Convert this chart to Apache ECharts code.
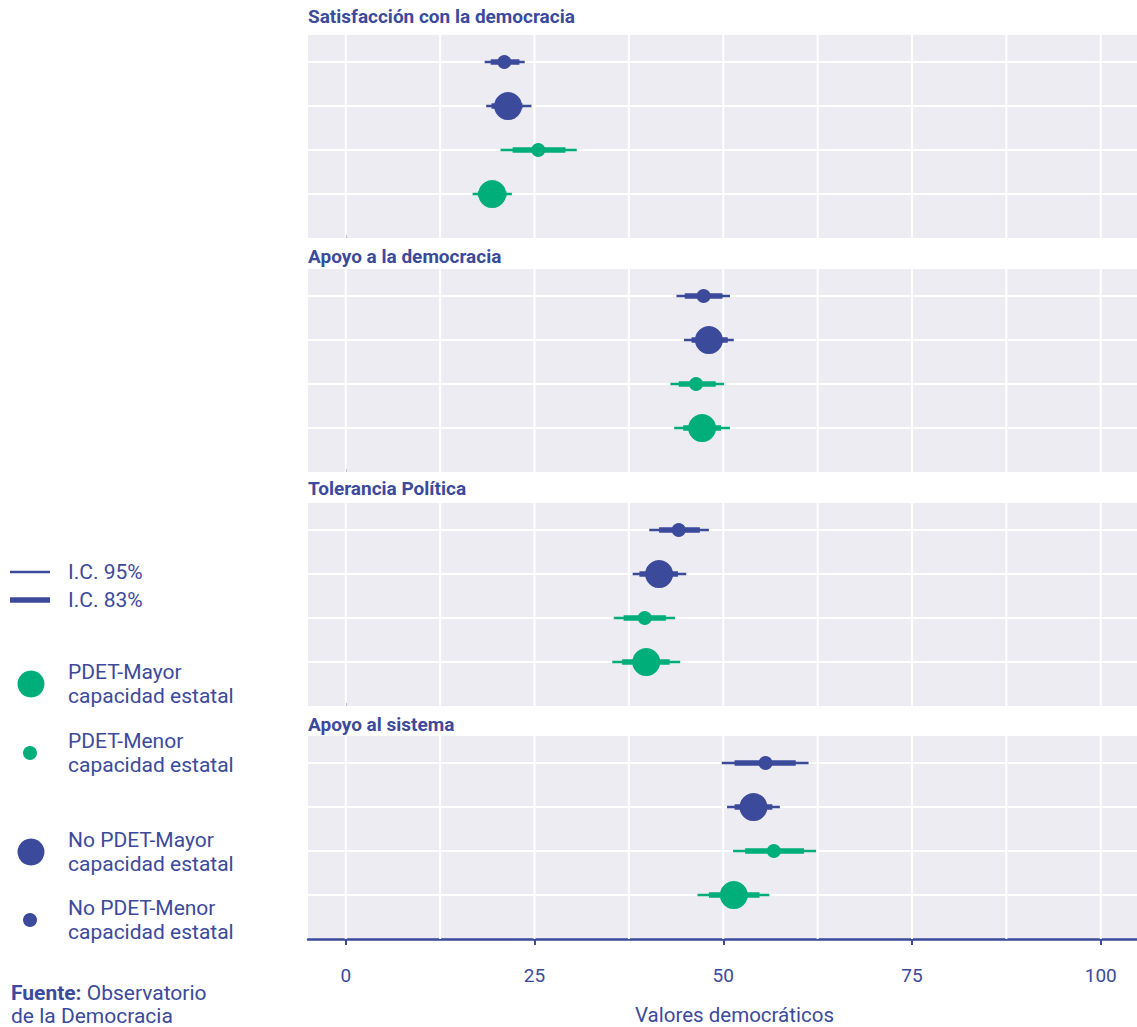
<!DOCTYPE html>
<html><head><meta charset="utf-8">
<script src="https://cdn.jsdelivr.net/npm/echarts@6/dist/echarts.min.js"></script>
<style>html,body{margin:0;padding:0;background:#fff}#chart{width:1137px;height:1027px}</style>
</head><body><div id="chart"></div>
<script>
// ---- data ----
const panels = ['Satisfacción con la democracia', 'Apoyo a la democracia', 'Tolerancia Política', 'Apoyo al sistema'];
const groups = ['No PDET-Menor capacidad estatal', 'No PDET-Mayor capacidad estatal', 'PDET-Menor capacidad estatal', 'PDET-Mayor capacidad estatal'];
const groupRow = [4, 3, 2, 1];
const ciNames = ['I.C. 95%', 'I.C. 83%'];
const xTicks = [0, 25, 50, 75, 100];
const xGridLines = [0, 12.5, 25, 37.5, 50, 62.5, 75, 87.5, 100];
const xAxisName = 'Valores democráticos';
const sourceText = '{b|Fuente:} Observatorio\nde la Democracia';

// estimates per panel (order of panels)
const estNoPdetMenor = [21.0, 47.4, 44.1, 55.6];
const estNoPdetMayor = [21.5, 48.1, 41.5, 54.0];
const estPdetMenor   = [25.5, 46.4, 39.6, 56.7];
const estPdetMayor   = [19.4, 47.2, 39.8, 51.4];
// 95% intervals
const lo95NoPdetMenor = [18.4, 43.8, 40.2, 49.8], hi95NoPdetMenor = [23.7, 50.9, 48.1, 61.3];
const lo95NoPdetMayor = [18.6, 44.8, 38.0, 50.5], hi95NoPdetMayor = [24.6, 51.4, 45.1, 57.5];
const lo95PdetMenor   = [20.5, 43.0, 35.5, 51.3], hi95PdetMenor   = [30.6, 50.1, 43.6, 62.3];
const lo95PdetMayor   = [16.8, 43.5, 35.3, 46.6], hi95PdetMayor   = [22.0, 50.9, 44.3, 56.1];
// 83% intervals
const lo83NoPdetMenor = [19.2, 44.9, 41.5, 51.5], hi83NoPdetMenor = [23.0, 49.9, 46.9, 59.6];
const lo83NoPdetMayor = [19.3, 45.8, 38.9, 51.5], hi83NoPdetMayor = [23.4, 50.6, 44.0, 56.5];
const lo83PdetMenor   = [22.1, 44.1, 36.8, 52.9], hi83PdetMenor   = [29.1, 49.0, 42.4, 60.7];
const lo83PdetMayor   = [17.5, 44.7, 36.6, 48.1], hi83PdetMayor   = [21.3, 49.7, 42.9, 54.8];

// ---- styling ----
const BLUE = '#3B4A9B', GREEN = '#00AE7A', BG = '#EDECF2';
const FONT = 'Roboto';
const groupColor = [BLUE, BLUE, GREEN, GREEN];
const groupSize = [14, 28, 14, 28];
const est = [estNoPdetMenor, estNoPdetMayor, estPdetMenor, estPdetMayor];
const lo95 = [lo95NoPdetMenor, lo95NoPdetMayor, lo95PdetMenor, lo95PdetMayor];
const hi95 = [hi95NoPdetMenor, hi95NoPdetMayor, hi95PdetMenor, hi95PdetMayor];
const lo83 = [lo83NoPdetMenor, lo83NoPdetMayor, lo83PdetMenor, lo83PdetMayor];
const hi83 = [hi83NoPdetMenor, hi83NoPdetMayor, hi83PdetMenor, hi83PdetMayor];

const gridTops = [35, 269, 503, 736];
const titleTops = [5, 245, 477, 713];

const grids = [], xAxes = [], yAxes = [], series = [], titles = [];
panels.forEach((p, i) => {
  grids.push({left: 308, right: 0, top: gridTops[i], height: 203, show: true, backgroundColor: BG, borderWidth: 0});
  titles.push({text: p, left: 308, top: titleTops[i], padding: 0,
    textStyle: {color: BLUE, fontSize: 19, fontWeight: 'bold', fontFamily: FONT, lineHeight: 22}});
  const last = i === panels.length - 1;
  xAxes.push(last ? {
    gridIndex: i, type: 'value', min: -5, max: 104.8,
    axisLine: {show: true, onZero: false, lineStyle: {color: BLUE, width: 2.5}},
    axisTick: {show: true, customValues: xTicks, length: 6, lineStyle: {color: BLUE, width: 2}},
    axisLabel: {show: true, customValues: xTicks, color: BLUE, fontSize: 19, fontWeight: 'normal', fontFamily: FONT, margin: 27},
    splitLine: {show: false},
    name: xAxisName, nameLocation: 'middle', nameGap: 65,
    nameTextStyle: {color: BLUE, fontSize: 20.5, fontWeight: 'normal', fontFamily: FONT, padding: [0, 0, 0, 24]}
  } : {
    gridIndex: i, type: 'value', min: -5, max: 104.8,
    axisLine: {show: false},
    axisTick: {show: true, inside: true, customValues: [0], length: 3, lineStyle: {color: '#000', width: 1}},
    axisLabel: {show: false}, splitLine: {show: false}
  });
  yAxes.push({gridIndex: i, type: 'value', min: 0, max: 4.614, interval: 1,
    axisLine: {show: false}, axisTick: {show: false}, axisLabel: {show: false},
    splitLine: {show: true, showMinLine: false, showMaxLine: false, lineStyle: {color: '#fff', width: 2}}});

  // vertical grid lines
  series.push({type: 'custom', xAxisIndex: i, yAxisIndex: i, silent: true, z: 1,
    data: xGridLines.map(v => [v]), encode: {x: 0},
    renderItem: (params, api) => {
      const x = api.coord([api.value(0), 0])[0];
      const cs = params.coordSys;
      return {type: 'line', shape: {x1: x, y1: cs.y, x2: x, y2: cs.y + cs.height}, style: {stroke: '#fff', lineWidth: 2}};
    }});
  // confidence intervals
  [[lo95, hi95, 2.5, 3], [lo83, hi83, 5.5, 4]].forEach(([lo, hi, w, z], c) => {
    series.push({type: 'custom', name: ciNames[c], xAxisIndex: i, yAxisIndex: i, z: z,
      itemStyle: {color: BLUE},
      data: groups.map((g, k) => [lo[k][i], hi[k][i], groupRow[k], k]),
      encode: {x: [0, 1], y: 2},
      renderItem: (params, api) => {
        const a = api.coord([api.value(0), api.value(2)]);
        const b = api.coord([api.value(1), api.value(2)]);
        return {type: 'line', shape: {x1: a[0], y1: a[1], x2: b[0], y2: b[1]},
          style: {stroke: groupColor[api.value(3)], lineWidth: w}};
      }});
  });
  // point estimates
  groups.forEach((g, k) => {
    series.push({type: 'scatter', name: g, xAxisIndex: i, yAxisIndex: i, z: 6,
      symbol: 'circle', symbolSize: groupSize[k], itemStyle: {color: groupColor[k], opacity: 1},
      data: [[est[k][i], groupRow[k]]]});
  });
});

titles.push({text: sourceText, left: 11, top: 981, padding: 0,
  textStyle: {color: BLUE, fontSize: 21, fontWeight: 'normal', fontFamily: FONT, lineHeight: 23,
    rich: {b: {color: BLUE, fontSize: 21, fontWeight: 'bold', fontFamily: FONT, lineHeight: 23}}}});

const TEXT_X = 68;
const mkLegend = (name, icon, left, top, w, h) => ({
  data: [{name: name, icon: icon, itemStyle: {color: icon === 'rect' ? BLUE : groupColor[groups.indexOf(name)]}}],
  left: left, top: top, padding: 0, orient: 'vertical', itemWidth: w, itemHeight: h,
  selectedMode: false,
  textStyle: {color: BLUE, fontSize: 21, fontWeight: 'normal', fontFamily: FONT, lineHeight: 24,
    padding: [0, 0, 0, TEXT_X - (left + w + 5)]},
  formatter: n => n.replace(' capacidad', '\ncapacidad')
});
const legends = [
  mkLegend(ciNames[0], 'rect', 10, 560, 40, 2.5),
  mkLegend(ciNames[1], 'rect', 10, 588, 40, 5.5),
  mkLegend(groups[3], 'circle', 17.5, 660, 27, 27),
  mkLegend(groups[2], 'circle', 23, 729, 14, 14),
  mkLegend(groups[1], 'circle', 17.5, 828, 27, 27),
  mkLegend(groups[0], 'circle', 23, 896, 14, 14)
];

const chart = echarts.init(document.getElementById('chart'), null, {renderer: 'svg'});
chart.setOption({
  animation: false,
  backgroundColor: '#fff',
  textStyle: {fontFamily: FONT},
  title: titles, legend: legends,
  grid: grids, xAxis: xAxes, yAxis: yAxes, series: series
});
</script></body></html>
